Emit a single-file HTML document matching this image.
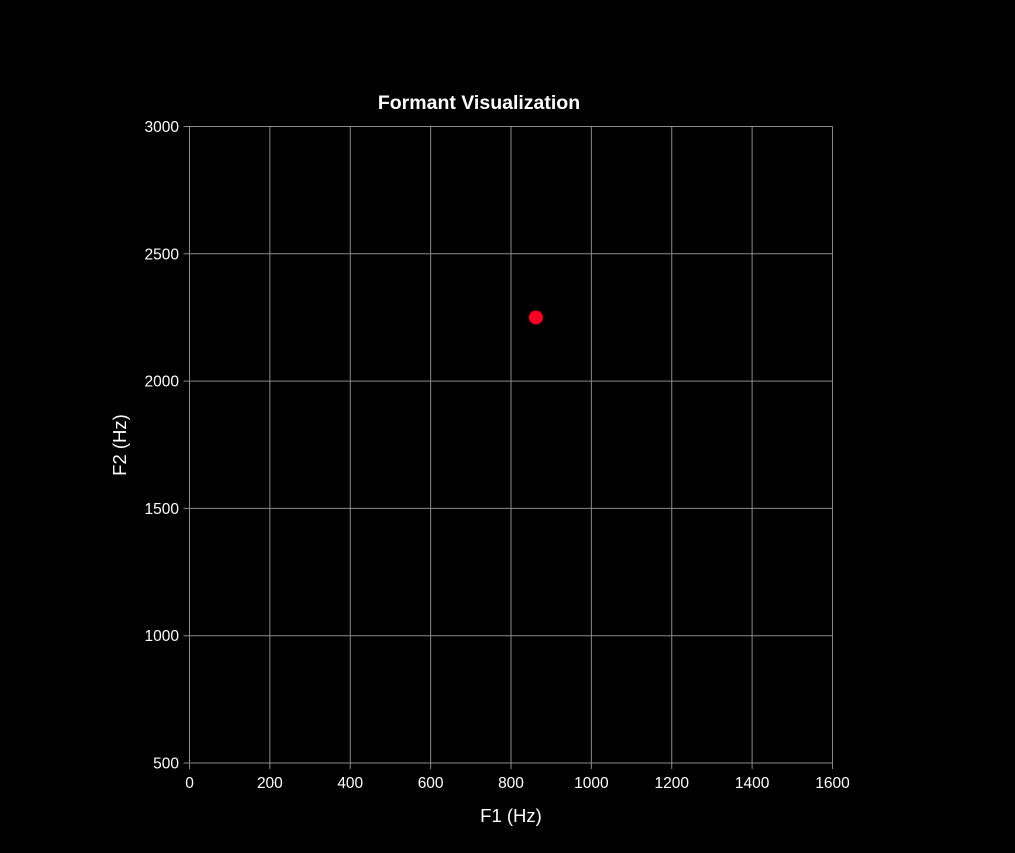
<!DOCTYPE html>
<html><head><meta charset="utf-8"><style>
html,body{margin:0;padding:0;background:#000;}
svg{display:block;font-family:"Liberation Sans",Arial,sans-serif;}
</style></head><body>
<svg id="chart" width="1015" height="853" viewBox="0 0 1015 853" xmlns="http://www.w3.org/2000/svg">
<rect x="0" y="0" width="1015" height="853" fill="#000"/>
<text x="479" y="109" fill="#fff" font-size="19.5" font-weight="bold" text-anchor="middle">Formant Visualization</text>
<text x="511" y="822" fill="#fff" font-size="18.5" text-anchor="middle">F1 (Hz)</text>
<text x="0" y="0" fill="#fff" font-size="18.5" text-anchor="middle" transform="translate(126,445) rotate(-90)">F2 (Hz)</text>
<g id="grid"></g>
<g id="marks"></g>
</svg>
<script>
const xTicks = [0,200,400,600,800,1000,1200,1400,1600];
const yTicks = [500,1000,1500,2000,2500,3000];
const f1Values = [862];
const f2Values = [2250];
const L=189.5,R=832.5,T=126.5,B=763;
const xs=v=>L+(v-0)/(1600-0)*(R-L);
const ys=v=>B-(v-500)/(3000-500)*(B-T);
const NS="http://www.w3.org/2000/svg";
const grid=document.getElementById('grid');
const marks=document.getElementById('marks');
function mk(tag,attrs,parent){const e=document.createElementNS(NS,tag);for(const k in attrs)e.setAttribute(k,attrs[k]);parent.appendChild(e);return e;}
xTicks.forEach(t=>{
  const x=xs(t);
  const l=mk('line',{x1:x,x2:x,y1:T,y2:B+6,stroke:'#8a8a8a','stroke-width':1},grid);
  
  
  const tx=mk('text',{x:x,y:788,fill:'#fff','font-size':15.5,'text-anchor':'middle'},grid);
  tx.textContent=t;
  
  
});
yTicks.forEach(t=>{
  const y=ys(t);
  const l=mk('line',{x1:L-6,x2:R,y1:y,y2:y,stroke:'#8a8a8a','stroke-width':1},grid);
  
  
  const tx=mk('text',{x:179,y:y+5.5,fill:'#fff','font-size':15.5,'text-anchor':'end'},grid);
  tx.textContent=t;
  
  
});
f1Values.forEach((v,i)=>{
  const c=mk('circle',{cx:xs(v),cy:ys(f2Values[i]),r:7,fill:'#ff0022'},marks);
  
  
});
</script>
</body></html>
